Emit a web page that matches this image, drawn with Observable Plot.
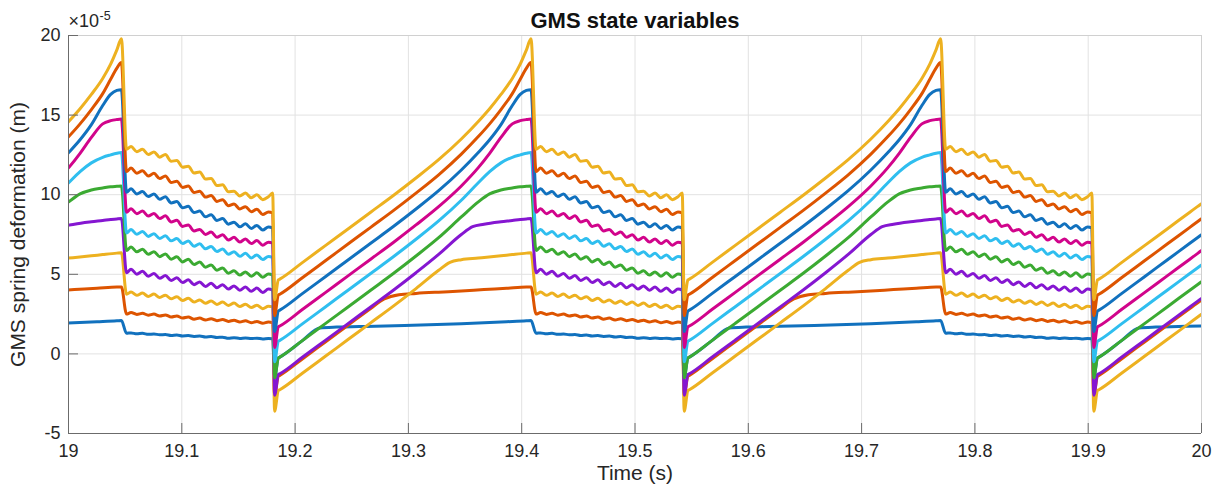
<!DOCTYPE html>
<html><head><meta charset="utf-8">
<script src="https://cdn.jsdelivr.net/npm/d3@7"></script>
<script src="https://cdn.jsdelivr.net/npm/@observablehq/plot@0.6"></script>
<style>body{margin:0;background:#fff;}</style>
</head><body><div id="chart"></div>
<script>
// Peak instants of each cycle (s)
const peakTimes = [18.6852, 19.0467, 19.4082, 19.7697];
// Offsets (s) after each peak for the decay segment: peak, post-drop, ripple extrema, pre-dip, dip minimum
const decayOffsets = [0, 0.0045,
  0.0085, 0.0136, 0.0186, 0.0237, 0.0287, 0.0338, 0.0388, 0.0439, 0.0489, 0.0540, 0.0590, 0.0641, 0.0691,
  0.0742, 0.0792, 0.0843, 0.0893, 0.0944, 0.0994, 0.1045, 0.1095, 0.1146, 0.1196, 0.1247, 0.1297,
  0.1335, 0.1352];
// Decay values (x1e-5 m) per series
const decay1  = [2.1, 1.3, 1.32,1.26,1.29,1.23,1.25,1.20,1.22,1.16,1.19,1.13,1.15,1.10,1.12,1.06,1.09,1.03,1.05,0.98,1.02,0.97,1.00,0.96,0.99,0.94,0.97, 0.95, -1.5];
const decay2  = [4.2, 2.5, 2.60,2.48,2.55,2.43,2.50,2.38,2.45,2.32,2.38,2.25,2.32,2.18,2.25,2.13,2.21,2.09,2.16,2.04,2.12,2.00,2.08,1.96,2.04,1.92,2.00, 1.95, -2.6];
const decay3  = [6.35, 3.75, 3.89,3.68,3.82,3.61,3.76,3.54,3.69,3.46,3.59,3.36,3.49,3.26,3.39,3.18,3.32,3.11,3.26,3.04,3.19,2.98,3.12,2.91,3.06,2.84,2.99, 2.95, -3.6];
const decay4  = [8.5, 5.1, 5.32,5.01,5.19,4.88,5.05,4.75,4.92,4.61,4.79,4.48,4.65,4.35,4.52,4.24,4.44,4.16,4.35,4.07,4.27,4.00,4.20,3.93,4.14,3.86,4.07, 4.0, -2.6];
const decay5  = [10.55, 6.5, 6.72,6.41,6.57,6.26,6.42,6.11,6.27,5.95,6.10,5.78,5.94,5.61,5.77,5.44,5.59,5.26,5.40,5.07,5.22,4.95,5.15,4.88,5.09,4.81,5.02, 4.95, -1.5];
const decay6  = [12.65, 7.6, 7.82,7.51,7.69,7.38,7.55,7.25,7.42,7.10,7.25,6.93,7.09,6.76,6.92,6.60,6.75,6.43,6.59,6.26,6.42,6.13,6.32,6.03,6.22,5.93,6.12, 6.05, -0.5];
const decay7  = [14.75, 8.9, 9.12,8.81,8.97,8.66,8.82,8.51,8.67,8.29,8.39,8.01,8.10,7.72,7.82,7.50,7.65,7.33,7.49,7.16,7.32,7.03,7.22,6.93,7.12,6.83,7.02, 6.95, 0.4];
const decay8  = [16.6, 10.15, 10.37,10.05,10.20,9.88,10.04,9.71,9.87,9.48,9.57,9.18,9.27,8.88,8.97,8.61,8.74,8.38,8.50,8.15,8.27,7.98,8.17,7.88,8.07,7.78,7.97, 7.9, 1.4];
const decay9  = [18.3, 11.45, 11.67,11.35,11.50,11.18,11.34,11.01,11.17,10.77,10.85,10.46,10.54,10.14,10.22,9.85,9.95,9.58,9.69,9.31,9.42,9.10,9.25,8.93,9.09,8.76,8.92, 8.85, 2.4];
const decay10 = [19.8, 12.85, 13.02,12.70,12.85,12.53,12.69,12.36,12.52,12.10,12.15,11.73,11.79,11.36,11.42,10.98,11.02,10.58,10.62,10.18,10.22,9.92,10.10,9.81,9.99,9.69,9.87, 10.1, 3.4];
// Ramp segment per series: [offset after peak (s), value]
const ramp1  = [[0.1385,-0.25],[0.1398,-0.2],[0.16,0.85],[0.175,1.63],[0.19,1.69],[0.21,1.72],[0.25,1.79],[0.30,1.9],[0.34,2.02],[0.3575,2.08]];
const ramp2  = [[0.1385,-1.4],[0.1398,-1.35],[0.16,-0.3],[0.18,0.75],[0.20,1.8],[0.22,2.85],[0.232,3.45],[0.245,3.72],[0.26,3.8],[0.28,3.88],[0.30,3.95],[0.32,4.04],[0.34,4.12],[0.3575,4.2]];
const ramp3  = [[0.1385,-2.3],[0.1398,-2.25],[0.16,-1.2],[0.18,-0.15],[0.20,0.9],[0.22,1.95],[0.24,3.0],[0.26,4.1],[0.28,5.25],[0.29,5.75],[0.30,5.92],[0.315,6.02],[0.335,6.16],[0.345,6.24],[0.3575,6.33]];
const ramp4  = [[0.1385,-1.3],[0.1398,-1.25],[0.16,-0.2],[0.18,0.85],[0.20,1.9],[0.22,2.95],[0.24,4.0],[0.26,5.1],[0.28,6.25],[0.30,7.5],[0.31,8.0],[0.32,8.15],[0.335,8.3],[0.345,8.38],[0.352,8.44],[0.3575,8.48]];
const ramp5  = [[0.1385,-0.25],[0.1398,-0.2],[0.16,0.85],[0.18,1.9],[0.20,2.95],[0.22,4.0],[0.24,5.05],[0.26,6.15],[0.28,7.3],[0.30,8.6],[0.315,9.55],[0.325,10.05],[0.335,10.3],[0.345,10.42],[0.352,10.5],[0.3575,10.53]];
const ramp6  = [[0.1385,0.8],[0.1398,0.85],[0.16,1.9],[0.18,2.95],[0.20,4.0],[0.22,5.05],[0.24,6.1],[0.26,7.2],[0.28,8.35],[0.30,9.65],[0.315,10.75],[0.325,11.45],[0.335,12.0],[0.345,12.35],[0.352,12.5],[0.3575,12.6]];
const ramp7  = [[0.1385,1.7],[0.1398,1.75],[0.16,2.8],[0.18,3.85],[0.20,4.9],[0.22,5.95],[0.24,7.0],[0.26,8.1],[0.28,9.25],[0.30,10.55],[0.315,11.7],[0.325,12.6],[0.335,13.6],[0.345,14.45],[0.352,14.65],[0.3575,14.72]];
const ramp8  = [[0.1385,2.7],[0.1398,2.75],[0.16,3.8],[0.18,4.85],[0.20,5.9],[0.22,6.95],[0.24,8.0],[0.26,9.1],[0.28,10.25],[0.30,11.55],[0.315,12.65],[0.325,13.45],[0.335,14.4],[0.345,15.6],[0.352,16.3],[0.3575,16.55]];
const ramp9  = [[0.1385,3.7],[0.1398,3.75],[0.16,4.8],[0.18,5.85],[0.20,6.9],[0.22,7.95],[0.24,9.0],[0.26,10.1],[0.28,11.25],[0.30,12.55],[0.315,13.65],[0.325,14.45],[0.335,15.35],[0.345,16.35],[0.352,17.25],[0.3575,17.95]];
const ramp10 = [[0.1385,4.65],[0.1398,4.7],[0.16,5.75],[0.18,6.8],[0.20,7.85],[0.22,8.9],[0.24,9.95],[0.26,11.05],[0.28,12.2],[0.30,13.5],[0.315,14.6],[0.325,15.4],[0.335,16.3],[0.345,17.3],[0.352,18.2],[0.3575,19.1]];

const seriesColors = ["#1171BE","#DD5400","#EDB120","#8516D1","#3BAA32","#2FBEEF","#D1048B","#1171BE","#DD5400","#EDB120"];
const xTicks = [19, 19.1, 19.2, 19.3, 19.4, 19.5, 19.6, 19.7, 19.8, 19.9, 20];
const xTickLabels = ["19","19.1","19.2","19.3","19.4","19.5","19.6","19.7","19.8","19.9","20"];
const yTicks = [-5, 0, 5, 10, 15, 20];
const yTickLabels = ["-5","0","5","10","15","20"];

const decays = [decay1,decay2,decay3,decay4,decay5,decay6,decay7,decay8,decay9,decay10];
const ramps = [ramp1,ramp2,ramp3,ramp4,ramp5,ramp6,ramp7,ramp8,ramp9,ramp10];
const rows = [];
decays.forEach((dv, s) => {
  peakTimes.forEach(p => {
    decayOffsets.forEach((o, k) => rows.push({t: p + o, v: dv[k], s}));
    ramps[s].forEach(([o, v]) => rows.push({t: p + o, v, s}));
  });
});

const font = "'Liberation Sans', Arial, Helvetica, sans-serif";
const gridColor = "#e2e2e2";
const axisColor = "#6b6b6b";
const txt = "#262626";

const chart = Plot.plot({
  width: 1218, height: 490,
  marginLeft: 68, marginRight: 17, marginTop: 35, marginBottom: 57,
  style: {fontFamily: font, fontSize: "18px", color: txt, background: "#fff", overflow: "visible"},
  x: {domain: [19, 20]},
  y: {domain: [-5, 20]},
  color: {type: "ordinal", domain: d3.range(10), range: seriesColors},
  marks: [
    Plot.gridX(xTicks, {stroke: gridColor, strokeOpacity: 1}),
    Plot.gridY(yTicks, {stroke: gridColor, strokeOpacity: 1}),
    Plot.ruleX([20], {stroke: "#d0d0d0"}),
    Plot.ruleY([20], {stroke: "#d0d0d0"}),
    Plot.line(rows, {x: "t", y: "v", z: "s", stroke: "s", strokeWidth: 3, curve: "monotone-x", clip: true}),
    Plot.ruleX([19], {stroke: axisColor}),
    Plot.ruleY([-5], {stroke: axisColor}),
    Plot.axisX(xTicks, {anchor: "bottom", tickSize: -10, tickPadding: 21, stroke: axisColor, fill: txt,
      tickFormat: (d, i) => xTickLabels[i], label: null, fontSize: 18}),
    Plot.axisY(yTicks, {anchor: "left", tickSize: -10, tickPadding: 18, stroke: axisColor, fill: txt,
      tickFormat: (d, i) => yTickLabels[i], label: null, fontSize: 18}),
    Plot.text(["Time (s)"], {frameAnchor: "bottom", dy: 40, fontSize: 21, fill: txt, lineAnchor: "middle"}),
    Plot.text(["GMS spring deformation (m)"], {frameAnchor: "left", textAnchor: "middle", lineAnchor: "middle", dx: -50, rotate: -90, fontSize: 21, fill: txt}),
    Plot.text(["GMS state variables"], {frameAnchor: "top", lineAnchor: "middle", dy: -15, fontSize: 22, fontWeight: "bold", fill: "#111"}),
    Plot.text(["×10"], {frameAnchor: "top-left", textAnchor: "start", lineAnchor: "middle", dy: -14, fontSize: 18, fill: txt}),
    Plot.text(["-5"], {frameAnchor: "top-left", textAnchor: "start", lineAnchor: "middle", dx: 31, dy: -20, fontSize: 12.5, fill: txt})
  ]
});
document.getElementById("chart").appendChild(chart);
</script>
</body></html>
